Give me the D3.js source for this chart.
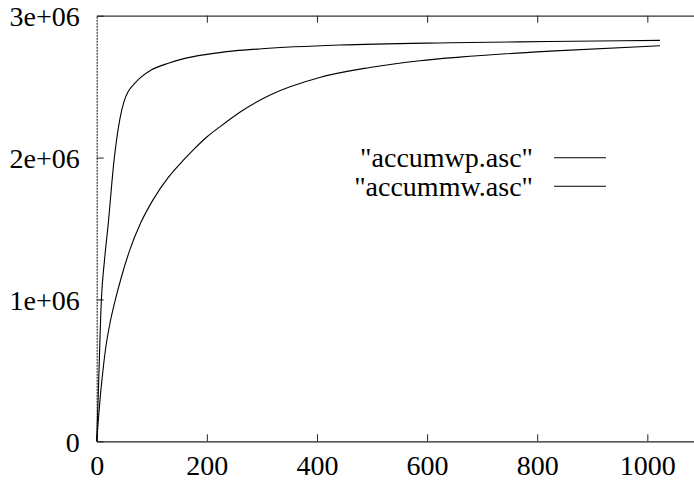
<!DOCTYPE html>
<html>
<head>
<meta charset="utf-8">
<script src="https://cdn.jsdelivr.net/npm/d3@7"></script>
<style>
  html, body { margin: 0; padding: 0; background: #fff; }
  svg { display: block; }
  svg text { font-family: "Liberation Serif", "Times New Roman", Times, "DejaVu Serif", serif !important; fill: #000; }
</style>
</head>
<body>
<svg id="chart" width="694" height="481" font-family="Liberation Serif, Times New Roman, serif"></svg>
<script>
// ---- data ----
const seriesNames = ['"accumwp.asc"', '"accummw.asc"'];

const wpX = [0, 3, 8.5, 14, 20.6, 31.5, 41.8, 50, 57, 69, 80, 99, 130, 160, 223, 250, 300, 441, 641, 820, 1023];
const wpY = [0, 350000, 1000000, 1270000, 1520000, 1980000, 2265000, 2400000, 2464000, 2523000, 2565000, 2617000, 2665000, 2699000, 2740000, 2752000, 2767000, 2793000, 2809000, 2818000, 2826000];

const mwX = [0, 3, 6.6, 10, 15.7, 25, 34, 45, 60, 80, 102, 130, 157, 175, 200, 223, 260, 314, 405, 496, 587, 659, 823, 1023];
const mwY = [0, 150000, 320000, 450000, 640000, 850000, 1000000, 1160000, 1348000, 1540000, 1700000, 1860000, 1980000, 2053000, 2145000, 2215000, 2320000, 2440000, 2565000, 2635000, 2683000, 2708000, 2750000, 2788000];

const xTicks = [0, 200, 400, 600, 800, 1000];
const yTicks = [0, 1000000, 2000000, 3000000];
const yTickLabels = ["0", "1e+06", "2e+06", "3e+06"];

// ---- chart ----
const svg = d3.select("#chart");
const x = d3.scaleLinear().domain([0, 1100]).range([96.7, 702.4]);
const y = d3.scaleLinear().domain([0, 3000000]).range([441.3, 15.7]);
const FS = 28;
const FONT = '"Liberation Serif", "Times New Roman", serif';

// bottom axis
const gx = svg.append("g").attr("transform", `translate(0,${y(0)})`)
  .call(d3.axisBottom(x).tickValues(xTicks).tickSizeInner(-7).tickSizeOuter(0).tickFormat(d3.format("d")));
gx.attr("font-family", FONT);
gx.select(".domain").attr("stroke", "#222").attr("stroke-width", 1.2);
gx.selectAll(".tick line").attr("stroke", "#222");
gx.selectAll(".tick text").attr("y", 34).attr("dy", 0).attr("font-size", FS)
  .attr("font-family", FONT);

// top axis (mirror ticks, no labels)
const gt = svg.append("g").attr("transform", `translate(0,${y(3000000)})`)
  .call(d3.axisTop(x).tickValues(xTicks.filter(d => d > 0)).tickSizeInner(-7).tickSizeOuter(0).tickFormat(""));
gt.select(".domain").attr("stroke", "#333").attr("stroke-width", 1.2);
gt.selectAll(".tick line").attr("stroke", "#222");

// left axis
const gy = svg.append("g").attr("transform", `translate(${x(0)},0)`)
  .call(d3.axisLeft(y).tickValues(yTicks).tickSizeInner(-7).tickSizeOuter(0)
    .tickFormat((d, i) => yTickLabels[i]));
gy.attr("font-family", FONT);
gy.select(".domain").attr("stroke", "#333").attr("stroke-width", 1.2).attr("stroke-dasharray", "2,1");
gy.selectAll(".tick line").attr("stroke", "#222");
gy.selectAll(".tick text").attr("x", -17).attr("dy", "0.36em").attr("font-size", FS)
  .attr("font-family", FONT);

// curves
const line = d3.line().x(d => x(d[0])).y(d => y(d[1])).curve(d3.curveMonotoneX);
const seriesData = [d3.zip(wpX, wpY), d3.zip(mwX, mwY)];
svg.append("g").selectAll("path").data(seriesData).join("path")
  .attr("d", line).attr("fill", "none").attr("stroke", "#000").attr("stroke-width", 1.1);

// legend
const legY = [157.7, 186.3];
const leg = svg.append("g").attr("font-family", FONT).selectAll("g").data(seriesNames).join("g")
  .attr("transform", (d, i) => `translate(0,${legY[i]})`);
leg.append("text").attr("x", 533).attr("y", 0).attr("dy", "0.33em")
  .attr("text-anchor", "end").attr("font-size", FS).attr("font-family", FONT).text(d => d);
leg.append("line").attr("x1", 554).attr("x2", 606).attr("y1", 0).attr("y2", 0)
  .attr("stroke", "#000").attr("stroke-width", 1.1);
</script>
</body>
</html>
